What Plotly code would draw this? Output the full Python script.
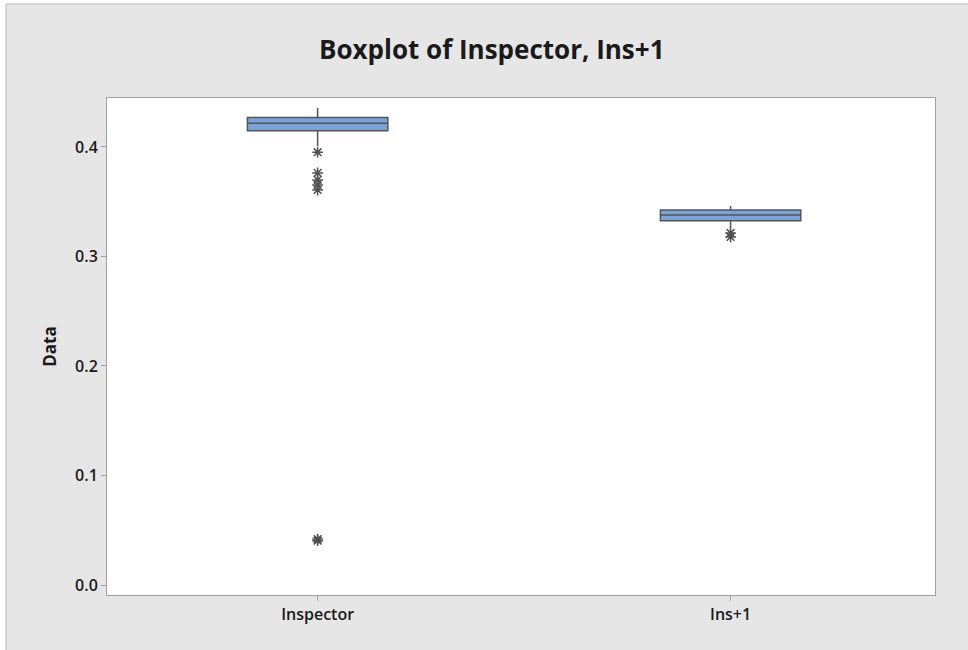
import plotly.graph_objects as go

categories = ["Inspector", "Ins+1"]
q1 = [0.4149, 0.3327]
median = [0.4216, 0.3379]
q3 = [0.4268, 0.3425]
lowerfence = [0.4009, 0.3260]
upperfence = [0.4356, 0.3461]

outlier_inspector = [0.3952, 0.3763, 0.3699, 0.3653, 0.3607, 0.0405, 0.0420]
outlier_ins1 = [0.3215, 0.3178]

y_ticks = [0.0, 0.1, 0.2, 0.3, 0.4]

fig = go.Figure()
for i, c in enumerate(categories):
    fig.add_trace(go.Box(
        x=[c], q1=[q1[i]], median=[median[i]], q3=[q3[i]],
        lowerfence=[lowerfence[i]], upperfence=[upperfence[i]],
        width=0.34, whiskerwidth=0,
        fillcolor="#7BA3DA",
        line=dict(color="#555555", width=1.5),
        boxpoints=False, showlegend=False, hoverinfo="skip",
    ))

fig.add_trace(go.Scatter(
    x=[categories[0]] * len(outlier_inspector) + [categories[1]] * len(outlier_ins1),
    y=outlier_inspector + outlier_ins1,
    mode="markers",
    marker=dict(symbol="asterisk-open", size=9, color="#505050",
                line=dict(color="#505050", width=1.5)),
    showlegend=False, hoverinfo="skip",
))

fig.update_layout(
    width=968, height=650,
    margin=dict(l=107, r=33, t=98, b=55),
    paper_bgcolor="#e6e6e6",
    plot_bgcolor="white",
    title=dict(
        text="<b>Boxplot of Inspector, Ins+1</b>",
        x=0.508, xref="container", xanchor="center",
        y=1 - 50 / 650, yref="container", yanchor="middle",
        font=dict(family="Open Sans", size=26, color="#1a1a1a"),
    ),
    font=dict(family="Open Sans", color="#1a1a1a"),
    xaxis=dict(
        type="category", range=[-0.51, 1.495],
        showline=True, mirror=True, linecolor="#a0a0a0", linewidth=1,
        ticks="outside", ticklen=5, tickcolor="#a0a0a0",
        showgrid=False, zeroline=False,
        tickfont=dict(family="Open Sans", size=16, weight=600, color="#1a1a1a"),
    ),
    yaxis=dict(
        range=[-0.0091, 0.4447],
        tickvals=y_ticks, ticktext=[f"{v:.1f}" for v in y_ticks],
        showline=True, mirror=True, linecolor="#a0a0a0", linewidth=1,
        ticks="outside", ticklen=5, tickcolor="#a0a0a0",
        showgrid=False, zeroline=False,
        tickfont=dict(family="Open Sans", size=16, weight=600, color="#1a1a1a"),
        title=dict(text="<b>Data</b>", font=dict(family="Open Sans", size=17, color="#1a1a1a"), standoff=14),
    ),
    shapes=[
        dict(type="rect", xref="paper", yref="paper", x0=-0.2, x1=1.1, y0=1.19, y1=1.25,
             fillcolor="white", line=dict(width=0), layer="above"),
        dict(type="rect", xref="paper", yref="paper", x0=-0.2, x1=-0.1220, y0=-0.2, y1=1.25,
             fillcolor="white", line=dict(width=0), layer="above"),
        dict(type="line", xref="paper", yref="paper", x0=-0.1220, x1=1.1, y0=1.189, y1=1.189,
             line=dict(color="#cccccc", width=1.5)),
        dict(type="line", xref="paper", yref="paper", x0=-0.1220, x1=-0.1220, y0=-0.2, y1=1.189,
             line=dict(color="#cccccc", width=1.5)),
    ],
)

fig.write_html(
    "out.html",
    config={"displayModeBar": False},
    post_script="document.body.style.margin='0';document.body.style.overflow='hidden';",
)
